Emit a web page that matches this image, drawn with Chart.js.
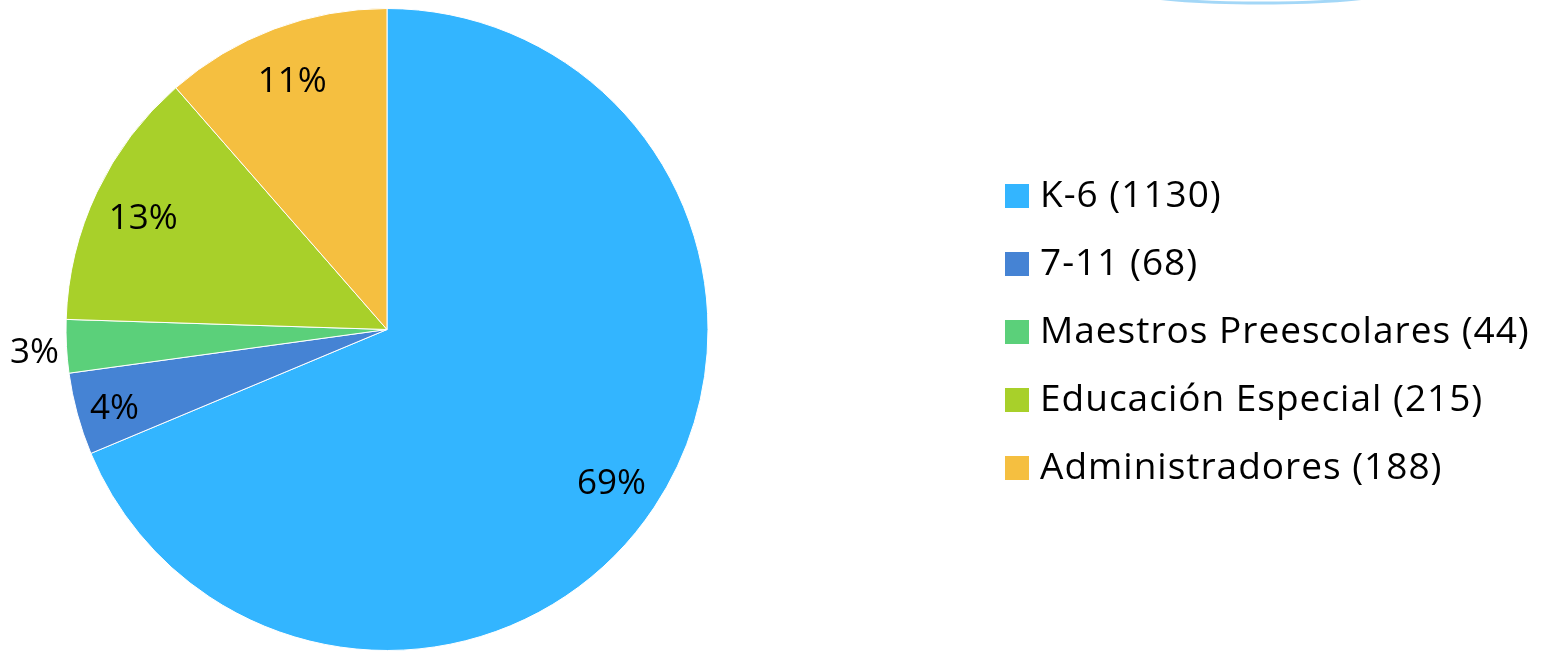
<!DOCTYPE html>
<html>
<head>
<meta charset="utf-8">
<script src="https://cdn.jsdelivr.net/npm/chart.js@4"></script>
<style>
  html, body { margin: 0; padding: 0; background: #fff; }
  #wrap { width: 1554px; height: 651px; position: relative; }
</style>
</head>
<body>
<div id="wrap"><canvas id="pieChart"></canvas></div>
<script>
(function () {
    const categories = ['K-6', '7-11', 'Maestros Preescolares', 'Educación Especial', 'Administradores'];
    const counts = [1130, 68, 44, 215, 188];
    const colors = ['#33B5FF', '#4583D4', '#5BD07A', '#A8D02A', '#F5BF40'];

    const total = counts.reduce((a, b) => a + b, 0);
    const font = '"Open Sans", "Noto Sans", sans-serif';

    // percentage labels inside the slices (tiny ones go outside)
    const sliceLabels = {
        id: 'sliceLabels',
        afterDatasetsDraw(chart) {
            const ctx = chart.ctx;
            const meta = chart.getDatasetMeta(0);
            ctx.save();
            ctx.font = '35px ' + font;
            ctx.fillStyle = '#000';
            ctx.textAlign = 'center';
            ctx.textBaseline = 'middle';
            meta.data.forEach((arc, i) => {
                const pct = counts[i] / total * 100;
                const mid = (arc.startAngle + arc.endAngle) / 2;
                const f = pct < 3.5 ? 1.1 : (pct < 5 ? 0.88 : 0.84);
                const r = arc.outerRadius * f;
                ctx.fillText(Math.round(pct) + '%', arc.x + Math.cos(mid) * r, arc.y + Math.sin(mid) * r + 5);
            });
            ctx.restore();
        }
    };

    // legend on the right
    const sideLegend = {
        id: 'sideLegend',
        afterDraw(chart) {
            const ctx = chart.ctx;
            ctx.save();
            ctx.font = '37px ' + font;
            ctx.letterSpacing = '1px';
            ctx.textBaseline = 'middle';
            ctx.textAlign = 'left';
            categories.forEach((c, i) => {
                const y = 196 + i * 68;
                ctx.fillStyle = colors[i];
                ctx.fillRect(1005, y - 12, 24, 24);
                ctx.fillStyle = '#000';
                ctx.fillText(c + ' (' + counts[i] + ')', 1040, y);
            });
            // faint edge of a shape cut off at the top
            ctx.strokeStyle = 'rgba(140, 205, 245, 0.8)';
            ctx.lineWidth = 3;
            ctx.beginPath();
            ctx.ellipse(1261, -7, 120, 10, 0, 0, Math.PI);
            ctx.stroke();
            ctx.restore();
        }
    };

    new Chart(
        document.getElementById('pieChart'),
        {
            type: 'pie',
            data: {
                labels: categories,
                datasets: [
                    {
                        data: counts,
                        backgroundColor: colors,
                        borderColor: '#fff',
                        borderWidth: 1
                    }
                ]
            },
            options: {
                responsive: true,
                maintainAspectRatio: false,
                animation: false,
                layout: {
                    padding: { left: 65, right: 845, top: 8, bottom: 0 }
                },
                plugins: {
                    legend: { display: false },
                    tooltip: { enabled: false }
                }
            },
            plugins: [sliceLabels, sideLegend]
        }
    );
})();
</script>
</body>
</html>
